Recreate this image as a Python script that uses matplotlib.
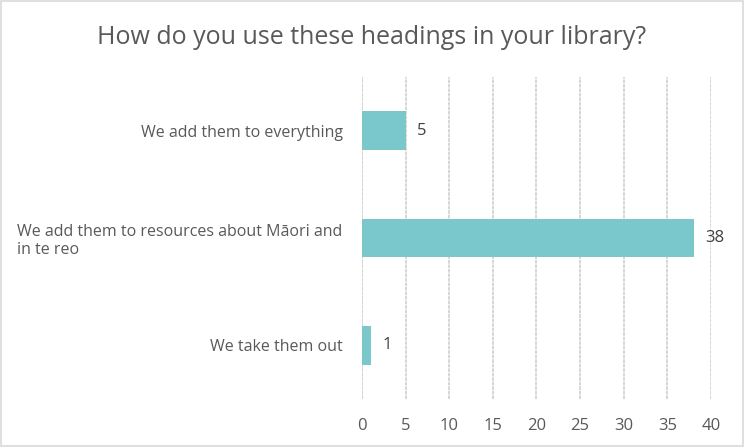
import matplotlib.pyplot as plt

categories = ['We take them out',
              'We add them to resources about Māori and\nin te reo',
              'We add them to everything']
values = [1, 38, 5]
xticks = [0, 5, 10, 15, 20, 25, 30, 35, 40]

plt.rcParams['font.family'] = ['Open Sans', 'DejaVu Sans']
grey = '#595959'

fig = plt.figure(figsize=(7.44, 4.47), dpi=100)
ax = fig.add_axes([0.4866, 0.1074, 0.469, 0.7203])

bars = ax.barh(range(len(values)), values, height=0.36, color='#7AC8CC', zorder=3)
for b, v in zip(bars, values):
    ax.text(b.get_width() + 1.3, b.get_y() + b.get_height() / 2, str(v),
            va='center', ha='left', fontsize=12, color='#404040')

ax.set_xlim(0, 40)
ax.set_ylim(-0.5, 2.5)
ax.set_xticks(xticks)
ax.set_yticks(range(len(categories)))
ax.set_yticklabels(categories, fontsize=11.5, color=grey, multialignment='left')
ax.tick_params(axis='x', labelsize=12, colors=grey, length=0, pad=14)
ax.tick_params(axis='y', length=0, pad=14)
ax.grid(axis='x', color='#D3D3D3', linewidth=1.3, linestyle=(0, (2, 0.5)), zorder=0)
for s in ax.spines.values():
    s.set_visible(False)
ax.axvline(0, color='#D3D3D3', linewidth=1.3, linestyle=(0, (2, 0.5)), zorder=1)

fig.text(0.5, 0.915, 'How do you use these headings in your library?',
         ha='center', va='center', fontsize=18, color=grey)

fig.patches.append(plt.Rectangle((0.001, 0.002), 0.997, 0.995, transform=fig.transFigure,
                                 fill=False, edgecolor='#D9D9D9', linewidth=1.2))

fig.savefig('out.png', dpi=100)
